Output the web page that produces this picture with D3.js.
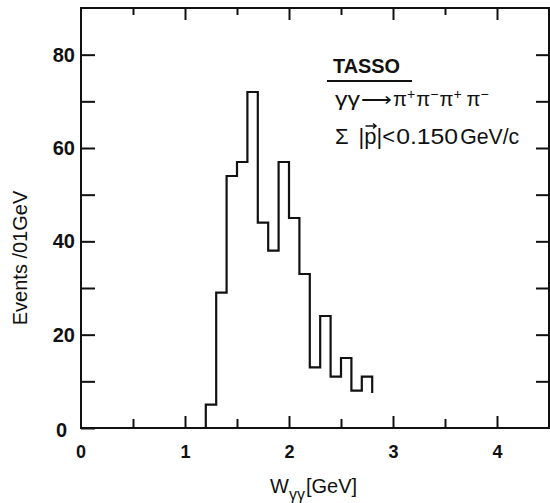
<!DOCTYPE html>
<html>
<head>
<meta charset="utf-8">
<script src="https://cdn.jsdelivr.net/npm/d3@7"></script>
<style>
  html, body { margin: 0; padding: 0; background: #fff; }
  svg { display: block; }
  text { font-family: "Liberation Sans", Arial, sans-serif; fill: #111; }
</style>
</head>
<body>
<svg id="chart" width="550" height="503"></svg>
<script>
// ---- data ----
const binLow = [1.2, 1.3, 1.4, 1.5, 1.6, 1.7, 1.8, 1.9, 2.0, 2.1, 2.2, 2.3, 2.4, 2.5, 2.6, 2.7];
const binWidth = 0.1;
const counts = [5, 29, 54, 57, 72, 44, 38, 57, 45, 33, 13, 24, 11, 15, 8, 11];
const lastEdgeEnd = 7.5;           // final vertical edge stops here
const xTicks = [0, 0.5, 1, 1.5, 2, 2.5, 3, 3.5, 4, 4.5];
const xLabels = [0, 1, 2, 3, 4];
const yTicks = [0, 10, 20, 30, 40, 50, 60, 70, 80];
const yLabels = [0, 20, 40, 60, 80];

// ---- layout ----
const svg = d3.select("#chart");
const L = 81, R = 549, T = 8, B = 428;
const x = d3.scaleLinear().domain([0, 4.5]).range([L, R]);
const y = d3.scaleLinear().domain([0, 90]).range([B, T]);
const ink = "#111";

// frame
svg.append("rect").attr("x", L).attr("y", T).attr("width", R - L).attr("height", B - T)
  .attr("fill", "none").attr("stroke", ink).attr("stroke-width", 2);

const isInt = d => Math.abs(d - Math.round(d)) < 1e-9;

// left axis
const gL = svg.append("g").attr("transform", `translate(${L},0)`)
  .call(d3.axisLeft(y).tickValues(yTicks).tickSizeInner(-14).tickSizeOuter(0).tickPadding(6)
    .tickFormat(d => yLabels.includes(d) ? d : ""));
gL.select(".domain").remove();
gL.selectAll(".tick line").attr("stroke", ink).attr("stroke-width", 2);
gL.selectAll(".tick text").attr("font-size", 20).attr("font-weight", "bold").attr("fill", ink)
  .attr("font-family", "Liberation Sans, Arial, sans-serif")
  .attr("dx", d => d === 0 ? -8 : 0).attr("dy", d => d === 0 ? "0.4em" : "0.32em");

// right axis
const gR = svg.append("g").attr("transform", `translate(${R},0)`)
  .call(d3.axisRight(y).tickValues(yTicks.filter(d => d > 0)).tickSizeInner(-13).tickSizeOuter(0).tickFormat(""));
gR.select(".domain").remove();
gR.selectAll(".tick line").attr("stroke", ink).attr("stroke-width", 2);

// bottom axis
const gB = svg.append("g").attr("transform", `translate(0,${B})`)
  .call(d3.axisBottom(x).tickValues(xTicks.filter(d => d > 0 && d < 4.5)).tickSizeInner(-12).tickSizeOuter(0).tickPadding(17)
    .tickFormat(d => xLabels.includes(d) ? d : ""));
gB.select(".domain").remove();
gB.selectAll(".tick line").attr("stroke", ink).attr("stroke-width", 2).attr("y2", d => isInt(d) ? -12 : -9);
gB.selectAll(".tick text").attr("font-size", 18).attr("font-weight", "bold").attr("fill", ink)
  .attr("font-family", "Liberation Sans, Arial, sans-serif");
// zero label at the corner
svg.append("text").attr("x", x(0)).attr("y", B + 17).attr("dy", "0.71em").attr("text-anchor", "middle")
  .attr("font-size", 18).attr("font-weight", "bold").text(xLabels[0]);

// top axis
const gT = svg.append("g").attr("transform", `translate(0,${T})`)
  .call(d3.axisTop(x).tickValues(xTicks.filter(d => d > 0 && d < 4.5)).tickSizeInner(-10).tickSizeOuter(0).tickFormat(""));
gT.select(".domain").remove();
gT.selectAll(".tick line").attr("stroke", ink).attr("stroke-width", 2).attr("y2", d => isInt(d) ? 12 : 7);

// histogram outline
const pts = [[binLow[0], 0]];
binLow.forEach((lo, i) => { pts.push([lo, counts[i]]); pts.push([lo + binWidth, counts[i]]); });
pts.push([binLow[binLow.length - 1] + binWidth, lastEdgeEnd]);
svg.append("path").datum(pts)
  .attr("d", d3.line().x(d => x(d[0])).y(d => y(d[1])))
  .attr("fill", "none").attr("stroke", ink).attr("stroke-width", 2.2).attr("stroke-linejoin", "miter");

// annotation
svg.append("text").attr("x", 333).attr("y", 73).attr("font-size", 20).attr("font-weight", "bold")
  .attr("textLength", 67).attr("lengthAdjust", "spacingAndGlyphs").text("TASSO");
svg.append("line").attr("x1", 327).attr("x2", 412).attr("y1", 81).attr("y2", 81)
  .attr("stroke", ink).attr("stroke-width", 2);

// γγ → π+π−π+π−
const t2 = svg.append("text").attr("x", 335).attr("y", 106).attr("font-size", 20);
t2.append("tspan").attr("textLength", 25).attr("lengthAdjust", "spacingAndGlyphs").text("γγ");
t2.append("tspan").attr("dx", 1).attr("textLength", 31).attr("lengthAdjust", "spacingAndGlyphs").text("⟶");
const pis = [["+", 1], ["−", 1], ["+", 1], ["−", 5]];
pis.forEach(([sgn, gap], i) => {
  t2.append("tspan").attr("dx", gap).attr("dy", i === 0 ? 0 : 7)
    .attr("textLength", 14).attr("lengthAdjust", "spacingAndGlyphs").text("π");
  t2.append("tspan").attr("dy", -7).attr("font-size", 14).text(sgn);
});

// Σ |p| < 0.150 GeV/c  (relative pieces in one text element)
const t3 = svg.append("text").attr("x", 335).attr("y", 144).attr("font-size", 22);
const pieces = [["Σ", 0, 0], ["|", 10, 0], ["p", 0, 0], ["|", 0, 0], ["<", 0, 0], ["0.150", 1, 62], ["GeV/c", 2, 59]];
pieces.forEach(([s, gap, len]) => {
  const ts = t3.append("tspan").attr("dx", gap).text(s);
  if (len) ts.attr("textLength", len).attr("lengthAdjust", "spacingAndGlyphs");
});
// vector arrow over p
const ax0 = 365.5, ax1 = 376, ay = 126;
svg.append("path")
  .attr("d", `M${ax0},${ay} L${ax1},${ay} M${ax1 - 3},${ay - 2.5} L${ax1},${ay} L${ax1 - 3},${ay + 2.5}`)
  .attr("fill", "none").attr("stroke", ink).attr("stroke-width", 1.5);

// axis titles
svg.append("text").attr("transform", "translate(27,258) rotate(-90)").attr("text-anchor", "middle")
  .attr("font-size", 20).text("Events /01GeV");

const xt = svg.append("text").attr("x", 270).attr("y", 493).attr("font-size", 20);
xt.append("tspan").text("W");
xt.append("tspan").attr("font-size", 16).attr("dy", 7).text("γγ");
xt.append("tspan").attr("dy", -7).attr("dx", 1).text("[GeV]");
</script>
</body>
</html>
